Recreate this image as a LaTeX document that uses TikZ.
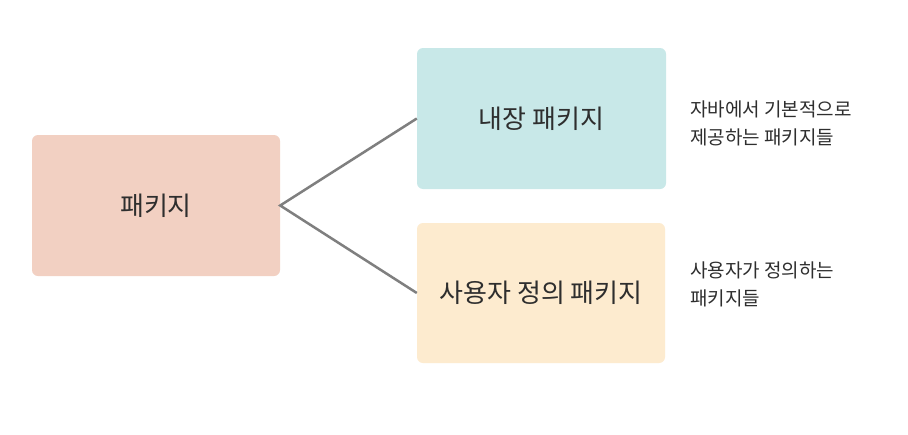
\documentclass[tikz,border=0pt]{standalone}
\usepackage{fontspec}
\setmainfont{Noto Sans CJK KR}
\definecolor{pinkbox}{HTML}{F2D0C2}
\definecolor{bluebox}{HTML}{C8E8E8}
\definecolor{yellowbox}{HTML}{FDEBCF}
\definecolor{linegray}{HTML}{7F7F7F}
\definecolor{textdark}{HTML}{2E2E2E}
\tikzset{
  box/.style={rounded corners=6pt, inner sep=0pt, text=textdark, font=\fontsize{26}{30}\selectfont},
  side/.style={anchor=west, align=left, inner sep=0pt, text=textdark, font=\fontsize{19}{28}\selectfont},
  conn/.style={draw=linegray, line width=2.5pt}
}
\begin{document}
\begin{tikzpicture}[x=1pt,y=-1pt]
\useasboundingbox (0,0) rectangle (908,434);
\fill[white] (0,0) rectangle (908,434);
\node[box, fill=pinkbox, minimum width=248pt, minimum height=141pt] (pkg) at (156,205.5) {패키지};
\node[box, fill=bluebox, minimum width=249pt, minimum height=141pt] (builtin) at (541.5,118.5) {내장 패키지};
\node[box, fill=yellowbox, minimum width=248pt, minimum height=140pt] (user) at (541,293) {사용자 정의 패키지};
\coordinate (hub) at (pkg.east);
\draw[conn] (user.west) -- (hub) -- (builtin.west);
\node[side] (bdesc) at (690,123) {자바에서 기본적으로\\제공하는 패키지들};
\node[side] (udesc) at (690,284) {사용자가 정의하는\\패키지들};
\end{tikzpicture}
\end{document}
